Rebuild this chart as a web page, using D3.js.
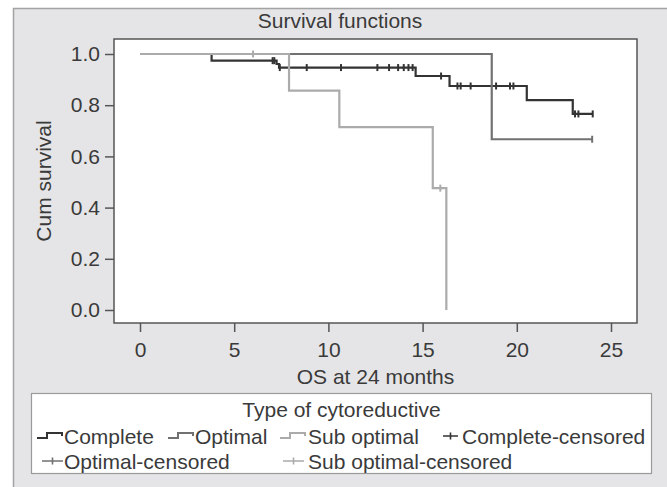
<!DOCTYPE html>
<html>
<head>
<meta charset="utf-8">
<script src="https://cdn.jsdelivr.net/npm/d3@7"></script>
<style>
  html, body { margin: 0; padding: 0; background: #fff; }
  svg text { font-family: "Liberation Sans", Arial, sans-serif; fill: #3a3a3a; }
</style>
</head>
<body>
<svg id="chart"></svg>
<script>
// ---- data ----
const groups = ["Complete", "Optimal", "Sub optimal"];

const completeTimes = [0, 3.8, 7.25, 7.38, 14.63, 16.43, 20.53, 22.97];
const completeSurv  = [1, 0.974, 0.961, 0.947, 0.914, 0.875, 0.82, 0.766];
const completeCensored = [7.04, 7.13, 7.42, 8.85, 10.67, 12.6, 13.22, 13.7, 14.0, 14.25, 14.47,
                          15.98, 16.85, 17.02, 17.55, 18.9, 19.64, 19.82, 23.09, 23.27, 24.03];
const completeEnd = 24.05;

const optimalTimes = [0, 18.67];
const optimalSurv  = [1, 0.667];
const optimalCensored = [24.0];
const optimalEnd = 24.0;

const subTimes = [0, 7.91, 10.58, 15.54, 16.26];
const subSurv  = [1, 0.857, 0.714, 0.476, 0];
const subCensored = [6.0, 15.94];
const subEnd = 16.26;

const xTicks = [0, 5, 10, 15, 20, 25];
const yTicks = [0, 0.2, 0.4, 0.6, 0.8, 1.0];

// ---- layout ----
const W = 667, H = 487;
const plot = { left: 114, top: 39, right: 637, bottom: 323 };
const colors = { "Complete": "#333333", "Optimal": "#717171", "Sub optimal": "#ababab" };

const svg = d3.select("#chart").attr("width", W).attr("height", H);

// outer frame (runs past the right and bottom edges)
svg.append("rect")
    .attr("x", 13.5).attr("y", 8.5)
    .attr("width", 700).attr("height", 500)
    .attr("fill", "#e5e5e7")
    .attr("stroke", "#a3a3a3")
    .attr("stroke-width", 1.5);

svg.append("text")
    .attr("x", 340).attr("y", 27.5)
    .attr("text-anchor", "middle")
    .attr("font-size", "21px")
    .text("Survival functions");

svg.append("rect")
    .attr("x", plot.left).attr("y", plot.top)
    .attr("width", plot.right - plot.left)
    .attr("height", plot.bottom - plot.top)
    .attr("fill", "#fff")
    .attr("stroke", "#555")
    .attr("stroke-width", 1.5);

const x = d3.scaleLinear().domain([0, 25]).range([140, 611]);
const y = d3.scaleLinear().domain([0, 1]).range([310, 54]);

/* axes */
const yAxis = svg.append("g")
    .attr("transform", `translate(${plot.left},0)`)
    .call(d3.axisLeft(y).tickValues(yTicks).tickFormat(d3.format(".1f")).tickSize(9).tickPadding(5));
const xAxis = svg.append("g")
    .attr("transform", `translate(0,${plot.bottom})`)
    .call(d3.axisBottom(x).tickValues(xTicks).tickSize(9).tickPadding(10));

[xAxis, yAxis].forEach(a => {
    a.select(".domain").remove();
    a.selectAll("line").attr("stroke", "#555").attr("stroke-width", 1.5);
    a.selectAll("text").attr("font-size", "21px").attr("font-family", null).style("fill", "#3a3a3a");
});

svg.append("text")
    .attr("x", (plot.left + plot.right) / 2).attr("y", 383.5)
    .attr("text-anchor", "middle")
    .attr("font-size", "21px")
    .text("OS at 24 months");

svg.append("text")
    .attr("transform", `translate(50.5,${(plot.top + plot.bottom) / 2}) rotate(-90)`)
    .attr("text-anchor", "middle")
    .attr("font-size", "21px")
    .text("Cum survival");

/* curves */
const series = [
    { name: "Complete", times: completeTimes, surv: completeSurv, censored: completeCensored, end: completeEnd },
    { name: "Optimal", times: optimalTimes, surv: optimalSurv, censored: optimalCensored, end: optimalEnd },
    { name: "Sub optimal", times: subTimes, surv: subSurv, censored: subCensored, end: subEnd }
];

const line = d3.line()
    .x(d => x(d[0]))
    .y(d => y(d[1]))
    .curve(d3.curveStepAfter);

function survAt(s, t) {
    let v = s.surv[0];
    s.times.forEach((tt, i) => { if (tt <= t) v = s.surv[i]; });
    return v;
}

series.forEach(s => {
    const pts = s.times.map((t, i) => [t, s.surv[i]]);
    pts.push([s.end, s.surv[s.surv.length - 1]]);
    const g = svg.append("g");
    g.append("path")
        .attr("d", line(pts))
        .attr("fill", "none")
        .attr("stroke", colors[s.name])
        .attr("stroke-width", 2.2);
    g.selectAll("line")
        .data(s.censored)
        .enter()
        .append("line")
        .attr("x1", d => x(d)).attr("x2", d => x(d))
        .attr("y1", d => y(survAt(s, d)) - 3.5)
        .attr("y2", d => y(survAt(s, d)) + 3.5)
        .attr("stroke", colors[s.name])
        .attr("stroke-width", 2);
});

/* legend */
const legend = svg.append("g");
legend.append("rect")
    .attr("x", 31.5).attr("y", 393.5)
    .attr("width", 620).attr("height", 80)
    .attr("fill", "#fff")
    .attr("stroke", "#9a9a9a")
    .attr("stroke-width", 1.2);

legend.append("text")
    .attr("x", 341.5).attr("y", 416.5)
    .attr("text-anchor", "middle")
    .attr("font-size", "21px")
    .text("Type of cytoreductive");

const legendItems = [
    { label: "Complete", type: "step", color: colors["Complete"], sx: 37, sw: 25, tx: 64, row: 0 },
    { label: "Optimal", type: "step", color: colors["Optimal"], sx: 168, sw: 25, tx: 195, row: 0 },
    { label: "Sub optimal", type: "step", color: colors["Sub optimal"], sx: 280, sw: 25, tx: 308, row: 0 },
    { label: "Complete-censored", type: "cens", color: colors["Complete"], sx: 443, sw: 15, tx: 462, row: 0 },
    { label: "Optimal-censored", type: "cens", color: colors["Optimal"], sx: 42, sw: 21, tx: 64, row: 1 },
    { label: "Sub optimal-censored", type: "cens", color: colors["Sub optimal"], sx: 283, sw: 21, tx: 308, row: 1 }
];

legendItems.forEach(d => {
    const base = d.row === 0 ? 443.5 : 468.5;
    const cy = base - 7.5;
    if (d.type === "step") {
        legend.append("path")
            .attr("d", `M${d.sx},${cy + 2}H${d.sx + d.sw * 0.4}V${cy - 3}H${d.sx + d.sw}V${cy}`)
            .attr("fill", "none")
            .attr("stroke", d.color)
            .attr("stroke-width", 2);
    } else {
        legend.append("path")
            .attr("d", `M${d.sx},${cy}H${d.sx + d.sw}M${d.sx + d.sw / 2},${cy - 3.5}V${cy + 3.5}`)
            .attr("fill", "none")
            .attr("stroke", d.color)
            .attr("stroke-width", 1.6);
    }
    legend.append("text")
        .attr("x", d.tx).attr("y", base)
        .attr("font-size", "21px")
        .text(d.label);
});
</script>
</body>
</html>
